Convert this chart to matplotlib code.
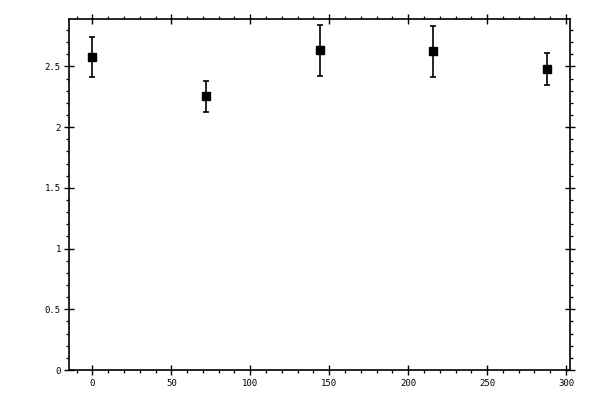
import matplotlib
matplotlib.use('Agg')
import matplotlib.pyplot as plt
from matplotlib.ticker import MultipleLocator, FormatStrFormatter

x_vals = [0, 72, 144, 216, 288]
y_vals = [2.574, 2.254, 2.634, 2.624, 2.475]
y_err = [0.165, 0.128, 0.21, 0.208, 0.132]

fig = plt.figure(figsize=(6, 4), dpi=100)
ax = fig.add_axes([0.1158, 0.075, 0.8342, 0.8775])

ax.errorbar(x_vals, y_vals, yerr=y_err, fmt='s', color='black', markersize=5.2,
            ecolor='black', elinewidth=1.2, capsize=2.2, capthick=1.2)

ax.set_xlim(-14.5, 302.5)
ax.set_ylim(0, 2.89)

ax.xaxis.set_major_locator(MultipleLocator(50))
ax.xaxis.set_minor_locator(MultipleLocator(10))
ax.yaxis.set_major_locator(MultipleLocator(0.5))
ax.yaxis.set_minor_locator(MultipleLocator(0.1))
ax.yaxis.set_major_formatter(FormatStrFormatter('%g'))

for s in ax.spines.values():
    s.set_linewidth(1.2)

ax.tick_params(which='major', direction='inout', length=6.5, width=1.0,
               top=True, right=True, labelsize=6.5, pad=3)
ax.tick_params(which='minor', direction='out', length=2.5, width=0.9,
               top=True, right=True)
for lab in ax.get_xticklabels() + ax.get_yticklabels():
    lab.set_family('DejaVu Sans Mono')

fig.savefig('out.png', dpi=100)
